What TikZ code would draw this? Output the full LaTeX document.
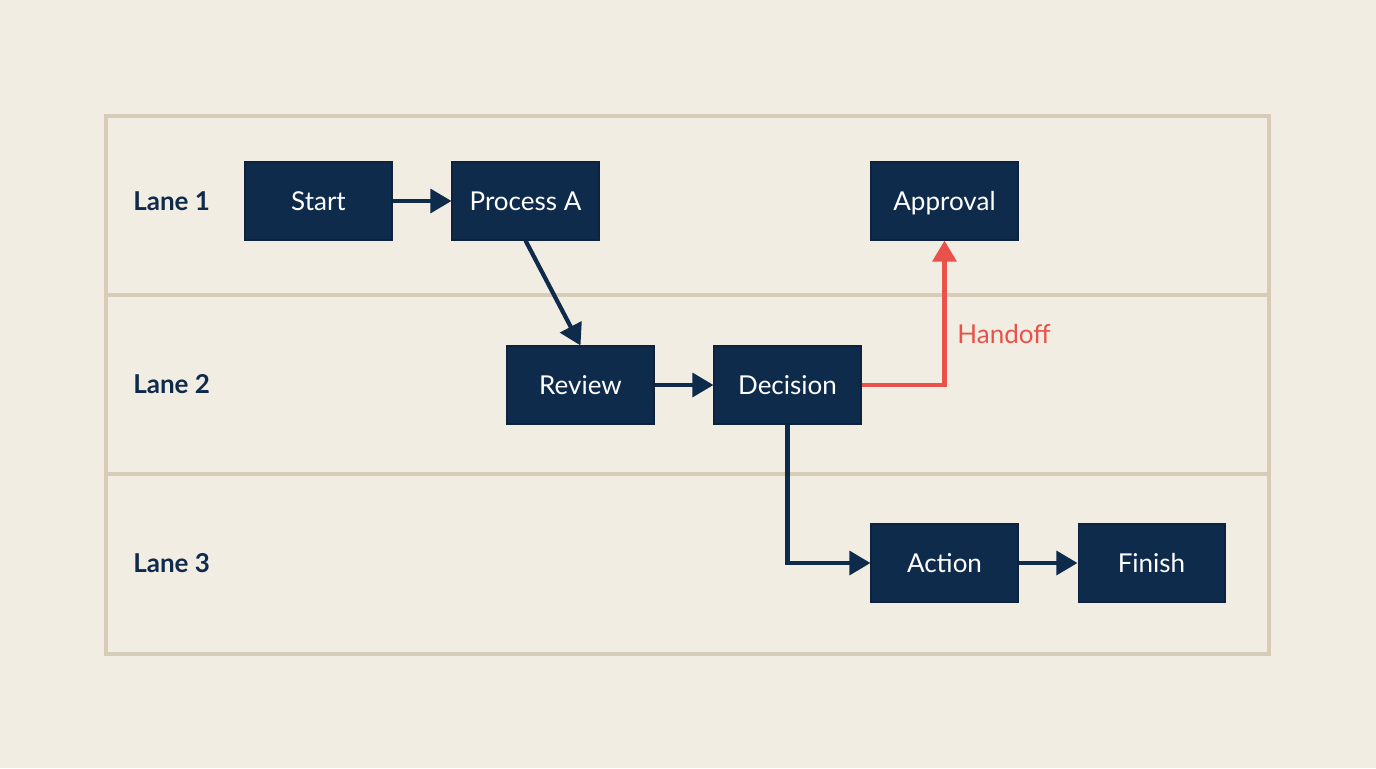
\documentclass[tikz,border=0pt]{standalone}
\usepackage{fontspec}
\setmainfont{Lato}
\usetikzlibrary{arrows.meta}
\definecolor{bgc}{HTML}{F2EDE2}
\definecolor{lanec}{HTML}{D6CCB8}
\definecolor{navy}{HTML}{0F2B4C}
\definecolor{handoff}{HTML}{E8524A}
\tikzset{
  px/.style={x=0.02cm,y=-0.02cm},
  box/.style={draw=navy!80!black,line width=0.6pt,fill=navy,text=white,minimum width=2.94cm,minimum height=1.56cm,inner sep=0pt,text height=10.5pt,text depth=0pt,font=\fontsize{14.8}{17}\selectfont},
  lanelabel/.style={anchor=west,text=navy,inner sep=0pt,font=\fontsize{14.8}{17}\selectfont\bfseries},
  flow/.style={draw=navy,line width=2.4pt,-{Triangle[length=12pt,width=13.5pt]}},
  hand/.style={draw=handoff,line width=2.4pt,-{Triangle[length=12pt,width=13.5pt]}},
  lanebox/.style={draw=lanec,line width=2.3pt}
}
\begin{document}
\begin{tikzpicture}[px]
\fill[bgc] (0,0) rectangle (1376,768);
\useasboundingbox (0,0) rectangle (1376,768);
\draw[lanebox] (106,116) rectangle (1269,654);
\draw[lanebox] (106,295) -- (1269,295);
\draw[lanebox] (106,474) -- (1269,474);

\node[lanelabel] (l1) at (133,201) {Lane 1};
\node[lanelabel] (l2) at (133,384) {Lane 2};
\node[lanelabel] (l3) at (133,563) {Lane 3};

\node[box] (start) at (318.5,201) {Start};
\node[box] (procA) at (525.5,201) {Process A};
\node[box] (approval) at (944.5,201) {Approval};
\node[box] (review) at (580.5,385) {Review};
\node[box] (decision) at (787.5,385) {Decision};
\node[box] (action) at (944.5,563) {Action};
\node[box] (finish) at (1151.5,563) {Finish};

\draw[flow] (start.east) -- (procA.west);
\draw[flow] (procA.south) -- (review.north);
\draw[flow] (review.east) -- (decision.west);
\draw[flow] (decision.south) |- (action.west);
\draw[flow] (action.east) -- (finish.west);
\draw[hand] (decision.east) -| (approval.south);
\node[anchor=west,text=handoff,inner sep=0pt,font=\fontsize{14.8}{17}\selectfont] (hlabel) at (957,334) {Handoff};
\end{tikzpicture}
\end{document}
